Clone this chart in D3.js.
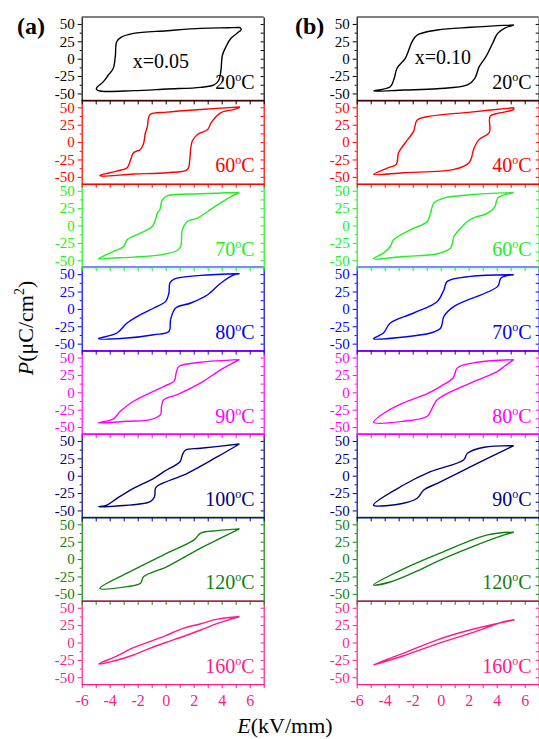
<!DOCTYPE html>
<html>
<head>
<meta charset="utf-8">
<script src="https://cdn.jsdelivr.net/npm/d3@7"></script>
<style>
body { margin: 0; background: #fff; }
text { font-family: "Liberation Serif", "Times New Roman", serif; }
</style>
</head>
<body>
<div id="chart"></div>
<script>
// panel temperatures (deg C) for each composition
var tempsA = ["20", "60", "70", "80", "90", "100", "120", "160"];
var tempsB = ["20", "40", "60", "70", "80", "90", "120", "160"];
var panelColors = ["#000000", "#ff0000", "#22ee22", "#0000ff", "#ff00ff", "#000080", "#108010", "#ff1a8c"];

var xTicks = [-6, -4, -2, 0, 2, 4, 6];
var xMinor = [-5, -3, -1, 1, 3, 5, 7];
var yTicks = [-50, -25, 0, 25, 50];
var yMinor = [-37.5, -12.5, 12.5, 37.5];

var a20 = [[5.3, 45], [4.5, 44.5], [2.5, 43.7], [0.1, 40.3], [-2.3, 36.5], [-3.2, 30.8], [-3.5, 24.5], [-3.6, 3], [-3.75, -14], [-4.1, -23.5], [-4.45, -33], [-4.9, -41], [-4.95, -44], [-4.7, -46.5], [-2.3, -46], [0.1, -43.6], [2.5, -41.2], [3.45, -37.8], [3.8, -30.6], [3.95, -16], [4.05, 5], [4.3, 17], [4.65, 29], [5.25, 39], [5.4, 42], [5.3, 45]];
var a60 = [[5.3, 50.5], [2.5, 47], [0.1, 43.2], [-1.1, 40], [-1.25, 32.7], [-1.3, 23], [-1.45, 13.5], [-1.57, -1], [-1.8, -10.5], [-2.3, -15.3], [-2.5, -25], [-2.75, -36.8], [-3.5, -41.7], [-4.7, -48], [-4.6, -48.8], [-2.3, -46], [0.1, -44], [1.55, -39.3], [1.72, -25], [1.78, -10.5], [1.9, 1.5], [2.27, 11], [3, 18.3], [3.25, 28], [3.95, 42.3], [4.9, 47], [5.3, 50.5]];
var a70 = [[5.27, 47.5], [2.5, 45.6], [0.1, 42.7], [-0.24, 37], [-0.42, 22.6], [-0.6, 17.8], [-0.73, 8.2], [-0.96, -1.4], [-1.8, -11], [-2.76, -20.6], [-3, -30.2], [-3.73, -37.4], [-4.8, -47.9], [-3.96, -46.9], [-2.3, -45.5], [-0.37, -42.2], [0.83, -36], [1.07, -30.2], [1.19, -6.2], [1.55, 5.8], [2.27, 10.6], [3, 20.1], [3.7, 29.8], [4.67, 41.7], [5.27, 47.5]];
var a80 = [[5.27, 50.6], [2.5, 48.2], [0.6, 43], [0.3, 37.3], [0.23, 22.9], [0, 10.8], [-0.85, 1.3], [-1.8, -8.3], [-2.76, -20.3], [-3.48, -34.7], [-4.8, -42.9], [-2.76, -41.9], [-0.85, -37.1], [0.23, -32.4], [0.35, -15.5], [0.71, 1.3], [1.8, 8.5], [3, 20.4], [3.95, 37.3], [4.9, 49.2], [5.27, 50.6]];
var a90 = [[5.27, 47], [2.5, 43.2], [0.95, 37.4], [0.75, 28], [0.6, 16], [-0.13, 8.6], [-2.3, -12.9], [-3.24, -27.3], [-3.73, -38.3], [-4.8, -44], [-2.76, -41.7], [-1.1, -39.3], [-0.37, -32.1], [-0.3, -20.1], [-0.13, -10.5], [0.83, -3.3], [2.5, 13.5], [3.95, 32.7], [5.27, 47]];
var a100 = [[5.27, 45.6], [2.5, 39.4], [1.43, 37], [1.19, 29.8], [1.02, 20.1], [-0.13, 5.8], [-0.85, -3.7], [-2.3, -18.1], [-3.48, -32.5], [-4.2, -42.2], [-4.8, -44.6], [-3.48, -43.6], [-1.1, -37.4], [-0.8, -30.2], [-0.73, -18.1], [-0.49, -13.4], [1.55, 3.5], [3.7, 27.3], [5.27, 45.6]];
var a120 = [[5.27, 43.5], [3.7, 41], [2.5, 37.3], [2.03, 27.6], [0.1, 8.5], [-2.3, -15.5], [-4.7, -42], [-2.76, -39.6], [-1.8, -34.7], [-1.57, -25.2], [0.1, -10.8], [2.5, 15.7], [5.27, 43.5]];
var a160 = [[5.27, 37.4], [3.7, 33.6], [2.5, 27], [1.3, 20.6], [0, 10], [-1.1, 1.5], [-2.3, -7.5], [-3.5, -19.5], [-4.8, -31], [-3.5, -25.5], [-2.3, -18], [-1.1, -8], [0, 0], [1.3, 9], [2.5, 18], [3.7, 27.5], [4.9, 35], [5.27, 37.4]];

var b20 = [[5.22, 48.5], [2.15, 45.2], [-0.24, 41.3], [-1.68, 34.1], [-2.04, 24.5], [-2.53, 0.6], [-3.12, -13.8], [-3.32, -28.2], [-3.6, -40.3], [-4.8, -46.5], [-2.65, -45], [-0.24, -43.2], [1.91, -37.8], [2.44, -28.2], [2.75, -11.5], [3.23, 2.9], [3.71, 22.2], [4.07, 36.5], [4.55, 43.7], [5.22, 48.5]];
var b40 = [[5.22, 49.5], [2.15, 43.2], [-0.73, 37.4], [-1.68, 31.7], [-1.93, 15.8], [-2.53, -0.9], [-3.01, -15.3], [-3.17, -32.1], [-3.73, -36.8], [-4.8, -46.5], [-2.65, -44], [0.95, -39.3], [2.03, -29.6], [2.39, -8.1], [2.75, 3.9], [3.47, 13.5], [3.54, 37.4], [4.31, 42.3], [5.2, 47], [5.22, 49.5]];
var b60 = [[5.22, 47.5], [2.15, 44.2], [0.23, 39.4], [-0.49, 32.2], [-0.73, 17.8], [-0.96, 5.8], [-2.17, -6.2], [-3.37, -20.6], [-3.6, -30.2], [-4.09, -39.7], [-4.8, -47.9], [-2.65, -44.6], [-0.24, -40.7], [0.71, -32.5], [0.95, -15.8], [1.43, -3.7], [2.15, 9.2], [3.35, 17.8], [3.88, 27.3], [4.07, 39.4], [5.22, 47.5]];
var b70 = [[5.22, 49.2], [2.15, 46.8], [0.47, 39.6], [0.23, 27.6], [-0.24, 10.8], [-1.93, -5.9], [-3.6, -20.3], [-4.09, -34.7], [-4.8, -42.9], [-2.65, -40.4], [-0.73, -34.7], [0, -27.5], [0.23, -10.8], [0.95, 3.6], [4.07, 32.4], [4.31, 44.5], [5.22, 49.2]];
var b80 = [[5.22, 47], [2.63, 43.2], [1.19, 35.1], [0.9, 21], [0, 8.6], [-0.96, -1.9], [-2.65, -15.3], [-3.84, -27.3], [-4.8, -43.2], [-2.65, -41.7], [-0.96, -34.5], [-0.6, -22.4], [-0.24, -10.5], [2.15, 13.5], [4.07, 30.2], [4.55, 37.4], [5.22, 47]];
var b90 = [[5.22, 43.2], [3.11, 40.9], [1.91, 32.2], [1.63, 22.6], [-0.73, 5.8], [-2.65, -13.4], [-4.8, -42.2], [-2.65, -39.7], [-1.68, -32.5], [-1.21, -20.6], [-0.24, -10.9], [2.15, 13], [5.22, 43.2]];
var b120 = [[5.22, 38.7], [3.35, 34.8], [0, 9], [-2.65, -14], [-4.8, -37.1], [-3.6, -33], [-1.45, -15], [0, -1], [2.15, 17], [4.55, 34.8], [5.22, 38.7]];
var b160 = [[5.27, 32.7], [2.15, 18.3], [-0.24, 3.9], [-2.65, -15.3], [-4.8, -32.1], [-2.65, -19.1], [-0.24, -1.9], [2.15, 13.5], [4.55, 30.2], [5.27, 32.7]];

var loopsA = [a20, a60, a70, a80, a90, a100, a120, a160];
var loopsB = [b20, b40, b60, b70, b80, b90, b120, b160];

var width = 539,
    height = 739,
    panelW = 182,
    panelH = 83.4,
    top0 = 17,
    colX = [81.7, 356.7];

var svg = d3.select("#chart").append("svg")
    .attr("width", width)
    .attr("height", height);

var x = d3.scaleLinear().domain([-6, 7]).range([0, panelW]);
var y = d3.scaleLinear().domain([-60, 60]).range([panelH, 0]);

var line = d3.line()
    .x(function (d) { return x(d[0]); })
    .y(function (d) { return y(d[1]); })
    .curve(d3.curveCatmullRom.alpha(0.5));

function styleAxis(sel, c) {
    sel.selectAll("path").attr("stroke", c).attr("stroke-width", 1.2);
    sel.selectAll("line").attr("stroke", c).attr("stroke-width", 1);
    sel.selectAll("text").attr("fill", c).style("font-size", "15px")
        .style("font-family", "'Liberation Serif', serif");
}

function drawColumn(col, loops, temps, note, noteX, noteY) {
    var cx = colX[col];
    // bottom panel first, so each panel's lower border ends up over the next one
    for (var i = loops.length - 1; i >= 0; i--) {
        var c = panelColors[i];
        var last = i === loops.length - 1;
        var g = svg.append("g")
            .attr("transform", "translate(" + cx + "," + (top0 + i * panelH) + ")");

        g.append("line")
            .attr("x1", 0).attr("x2", panelW)
            .attr("y1", 0).attr("y2", 0)
            .attr("stroke", c).attr("stroke-width", 1.2);

        g.append("path")
            .datum(loops[i])
            .attr("d", line)
            .attr("fill", "none")
            .attr("stroke", c)
            .attr("stroke-width", 1.4);

        var left = g.append("g")
            .call(d3.axisLeft(y).tickValues(yTicks).tickSize(4).tickSizeOuter(0)
                .tickPadding(3).tickFormat(String));
        styleAxis(left, c);

        var leftMinor = g.append("g")
            .call(d3.axisLeft(y).tickValues(yMinor).tickSize(2).tickFormat(""));
        leftMinor.select(".domain").remove();
        styleAxis(leftMinor, c);

        var right = g.append("g")
            .attr("transform", "translate(" + panelW + ",0)")
            .call(d3.axisRight(y).tickValues(yTicks.concat(yMinor)).tickSize(-3)
                .tickSizeOuter(0).tickFormat(""));
        styleAxis(right, c);

        var bottom = g.append("g")
            .attr("transform", "translate(0," + panelH + ")")
            .call(d3.axisBottom(x).tickValues(xTicks.concat(xMinor)).tickSize(4)
                .tickSizeOuter(0).tickPadding(6)
                .tickFormat(function (d) {
                    return last && xTicks.indexOf(d) >= 0 ? String(d) : "";
                }));
        styleAxis(bottom, c);
        if (last) bottom.selectAll("text").style("font-size", "16px");

        var lab = g.append("text")
            .attr("x", panelW - (col === 0 ? 9 : 7))
            .attr("y", 72)
            .attr("text-anchor", "end")
            .attr("fill", c)
            .style("font-size", "20px");
        lab.append("tspan").text(temps[i]);
        lab.append("tspan").attr("dy", -8).style("font-size", "12px").text("o");
        lab.append("tspan").attr("dy", 8).text("C");

        if (i === 0) {
            g.append("text")
                .attr("x", noteX).attr("y", noteY)
                .attr("fill", c)
                .style("font-size", "20px")
                .text(note);
        }
    }
}

drawColumn(0, loopsA, tempsA, "x=0.05", 51, 51);
drawColumn(1, loopsB, tempsB, "x=0.10", 58, 47);

svg.append("text")
    .attr("x", 17).attr("y", 34)
    .style("font-size", "24px").style("font-weight", "bold")
    .text("(a)");
svg.append("text")
    .attr("x", 295).attr("y", 34)
    .style("font-size", "24px").style("font-weight", "bold")
    .text("(b)");

// axis titles
var yt = svg.append("text")
    .attr("transform", "translate(33,328) rotate(-90)")
    .attr("text-anchor", "middle")
    .style("font-size", "22px");
yt.append("tspan").style("font-style", "italic").text("P");
yt.append("tspan").text("(\u03bcC/cm");
yt.append("tspan").attr("dy", -9).style("font-size", "14px").text("2");
yt.append("tspan").attr("dy", 9).text(")");

var xt = svg.append("text")
    .attr("x", 285).attr("y", 733)
    .attr("text-anchor", "middle")
    .style("font-size", "22px");
xt.append("tspan").style("font-style", "italic").text("E");
xt.append("tspan").text("(kV/mm)");
</script>
</body>
</html>
